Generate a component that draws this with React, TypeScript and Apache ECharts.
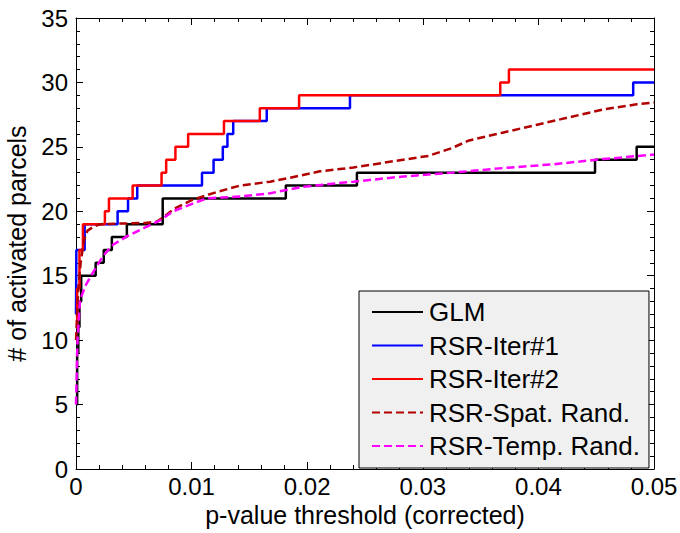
import React, { useEffect, useRef } from "react";
import * as echarts from "echarts";

const seriesNames = ["GLM", "RSR-Iter#1", "RSR-Iter#2", "RSR-Spat. Rand.", "RSR-Temp. Rand."];

const glm: number[][] = [
  [0, 5], [0.0001, 9], [0.0002, 11], [0.0003, 13], [0.00045, 15], [0.0017, 16], [0.0024, 17],
  [0.0031, 18], [0.0044, 19], [0.0075, 21], [0.01815, 22], [0.0243, 23], [0.0449, 24],
  [0.0485, 25], [0.05, 25],
];

const iter1: number[][] = [
  [0, 12], [0.00003, 17], [0.00075, 19], [0.0036, 20], [0.0045, 21], [0.0053, 22], [0.0109, 23],
  [0.0119, 24], [0.0127, 25], [0.0131, 26], [0.0136, 27], [0.0165, 28], [0.0237, 29],
  [0.0482, 30], [0.05, 30],
];

const iter2: number[][] = [
  [0, 11], [0.0001, 14], [0.0003, 17], [0.0006, 19], [0.0025, 20], [0.00285, 21], [0.0049, 22],
  [0.0074, 23], [0.0078, 24], [0.0086, 25], [0.0097, 26], [0.0128, 27], [0.0159, 28],
  [0.0193, 29], [0.0367, 30], [0.03745, 31], [0.05, 31],
];

const spatRand: number[][] = [
  [0, 10], [0.0002, 14], [0.0004, 16], [0.0007, 17.8], [0.001, 18.5], [0.0015, 18.8],
  [0.0021, 19.0], [0.004, 19.05], [0.006, 19.1], [0.007, 19.2], [0.0075, 19.5], [0.0085, 20.2],
  [0.0101, 20.9], [0.0122, 21.5], [0.0142, 22.0], [0.0168, 22.3], [0.0185, 22.6], [0.0211, 23.1],
  [0.024, 23.4], [0.0283, 24.0], [0.0305, 24.3], [0.0325, 24.9], [0.034, 25.5], [0.0369, 26.1],
  [0.0398, 26.7], [0.0427, 27.3], [0.0456, 27.9], [0.0485, 28.3], [0.05, 28.45],
];

const tempRand: number[][] = [
  [0, 5], [0.00013, 10], [0.00035, 13.1], [0.0008, 14.2], [0.0015, 15.3], [0.0024, 16.6],
  [0.0032, 17.4], [0.0044, 18.05], [0.0061, 18.8], [0.0073, 19.3], [0.0084, 20.0], [0.0101, 20.6],
  [0.0113, 21.0], [0.0142, 21.15], [0.0168, 21.4], [0.0196, 21.9], [0.024, 22.3], [0.0283, 22.7],
  [0.0326, 23.0], [0.0369, 23.35], [0.0413, 23.65], [0.0456, 24.05], [0.05, 24.4],
];

const xName = "p-value threshold (corrected)";
const yName = "# of activated parcels";

const FONT = "'Liberation Sans', Arial, Helvetica, sans-serif";

export default function App() {
  const ref = useRef<HTMLDivElement>(null);
  useEffect(() => {
    if (!ref.current) return;
    const chart = echarts.init(ref.current, null, { renderer: "svg" });
    const axisCommon = {
      axisLine: { show: true, onZero: false, lineStyle: { color: "#000", width: 1 } },
      axisTick: { show: true, inside: true, length: 7, lineStyle: { color: "#000" } },
      minorTick: { show: true, splitNumber: 5, length: 4, lineStyle: { color: "#000" } },
      splitLine: { show: false },
      nameMoveOverlap: false,
    };
    const xBase = { type: "value" as const, min: 0, max: 0.05, interval: 0.01, ...axisCommon };
    const yBase = { type: "value" as const, min: 0, max: 35, interval: 5, ...axisCommon };
    const colors = ["#000000", "#0000ff", "#ff0000", "#b00000", "#ff00ff"];
    const datas = [glm, iter1, iter2, spatRand, tempRand];
    const series = datas.map((d, i) => ({
      name: seriesNames[i],
      type: "line" as const,
      data: d,
      step: i < 3 ? ("end" as const) : undefined,
      symbol: "none",
      showSymbol: false,
      smooth: false,
      lineStyle: {
        color: colors[i],
        width: 2.5,
        type: i >= 3 ? [8, 4] : "solid",
      },
      itemStyle: { color: colors[i] },
      xAxisIndex: 0,
      yAxisIndex: 0,
      z: 2 + i,
    }));
    chart.setOption({
      animation: false,
      backgroundColor: "#ffffff",
      textStyle: { fontFamily: FONT },
      grid: {
        left: 76,
        right: 26,
        top: 18,
        bottom: 64,
        containLabel: false,
        outerBoundsMode: "none",
      },
      xAxis: [
        {
          ...xBase,
          position: "bottom",
          name: xName,
          nameLocation: "middle",
          nameGap: 33,
          nameTextStyle: { fontSize: 25, color: "#000", fontFamily: FONT },
          axisLabel: {
            show: true,
            margin: 5,
            fontSize: 24,
            color: "#000",
            fontFamily: FONT,
            formatter: (v: number) => (v === 0 ? "0" : String(Math.round(v * 100) / 100)),
          },
        },
        { ...xBase, position: "top", axisLabel: { show: false } },
      ],
      yAxis: [
        {
          ...yBase,
          position: "left",
          name: yName,
          nameLocation: "middle",
          nameGap: 47,
          nameTextStyle: { fontSize: 25, color: "#000", fontFamily: FONT },
          axisLabel: { show: true, margin: 8, fontSize: 24, color: "#000", fontFamily: FONT },
        },
        { ...yBase, position: "right", axisLabel: { show: false } },
      ],
      legend: {
        show: true,
        orient: "vertical",
        left: 359,
        top: 291,
        data: seriesNames,
        backgroundColor: "#f0f0f0",
        borderColor: "#000",
        borderWidth: 1,
        borderRadius: 0,
        padding: [8, 9, 9, 12],
        itemWidth: 51,
        itemHeight: 14,
        itemGap: 7.5,
        selectedMode: false,
        itemStyle: { opacity: 0, color: "transparent", borderWidth: 0 },
        textStyle: {
          fontSize: 26,
          lineHeight: 25,
          color: "#000",
          fontFamily: FONT,
          padding: [0, 0, 0, 1],
        },
      },
      series,
    });
    return () => chart.dispose();
  }, []);
  return (
    <div
      ref={ref}
      style={{ position: "absolute", left: 0, top: 0, width: 680, height: 533 }}
    />
  );
}
